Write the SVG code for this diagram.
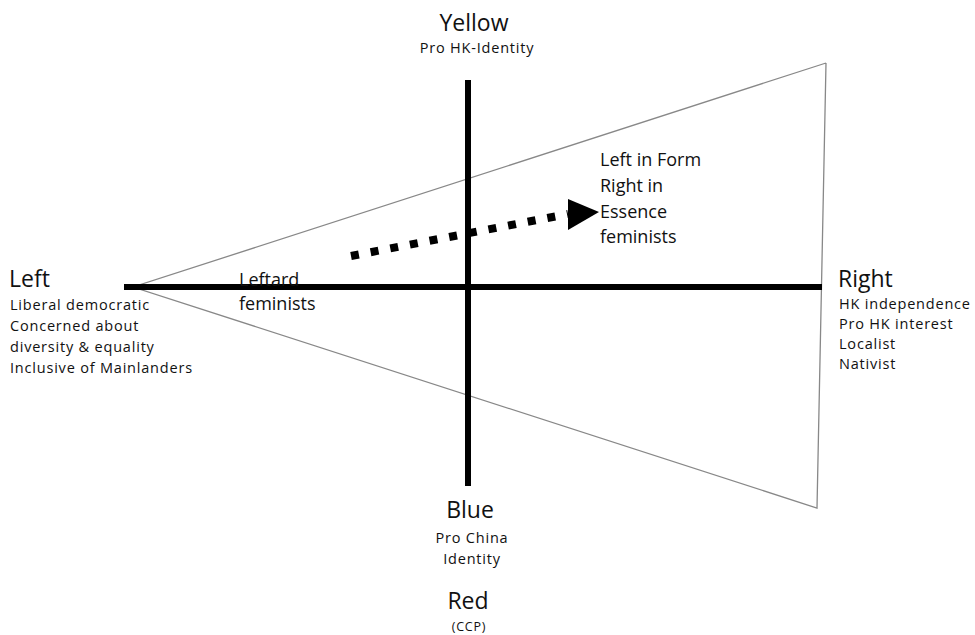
<svg xmlns="http://www.w3.org/2000/svg" width="975" height="635" viewBox="0 0 975 635">
<defs>
<style>
text{font-family:"Open Sans","Liberation Sans",sans-serif;fill:#111}
.big{font-size:23px}
.sm{font-size:14.5px;letter-spacing:0.8px}
.mid{font-size:18px}
.axis{stroke:#000;stroke-width:6;fill:none}
.tri{stroke:#888;stroke-width:1.3;fill:none}
</style>
</defs>
<g id="connectors">
<polyline class="tri" points="826,63 133,287 817,508 826,63"/>
<line class="axis" x1="124" y1="287" x2="822" y2="287"/>
<line class="axis" x1="468" y1="80" x2="468" y2="486"/>
<line x1="351" y1="256" x2="568" y2="214" stroke="#000" stroke-width="8" stroke-dasharray="8,12"/>
<path d="M568,199 L599,212 L568,230 Z" fill="#000"/>
</g>
<g id="left">
<text class="big" x="9" y="287">Left</text>
<text class="sm" x="10" y="310">Liberal democratic</text>
<text class="sm" x="10" y="331">Concerned about</text>
<text class="sm" x="10" y="352">diversity &amp; equality</text>
<text class="sm" x="10" y="373">Inclusive of Mainlanders</text>
</g>
<g id="right">
<text class="big" x="838" y="287">Right</text>
<text class="sm" x="839" y="309">HK independence</text>
<text class="sm" x="839" y="329">Pro HK interest</text>
<text class="sm" x="839" y="349">Localist</text>
<text class="sm" x="839" y="369">Nativist</text>
</g>
<g id="yellow">
<text class="big" x="474" y="31" text-anchor="middle">Yellow</text>
<text class="sm" x="477" y="53" text-anchor="middle">Pro HK-Identity</text>
</g>
<g id="blue">
<text class="big" x="470" y="518" text-anchor="middle">Blue</text>
<text class="sm" x="472" y="543" text-anchor="middle">Pro China</text>
<text class="sm" x="472" y="564" text-anchor="middle">Identity</text>
</g>
<g id="red">
<text class="big" x="468" y="609" text-anchor="middle">Red</text>
<text class="sm" x="469" y="631" text-anchor="middle" style="font-size:12.5px">(CCP)</text>
</g>
<g id="leftard">
<text class="mid" x="239" y="286">Leftard</text>
<text class="mid" x="239" y="310">feminists</text>
</g>
<g id="leftinform">
<text class="mid" x="600" y="166">Left in Form</text>
<text class="mid" x="600" y="192">Right in</text>
<text class="mid" x="600" y="218">Essence</text>
<text class="mid" x="600" y="243">feminists</text>
</g>
</svg>
